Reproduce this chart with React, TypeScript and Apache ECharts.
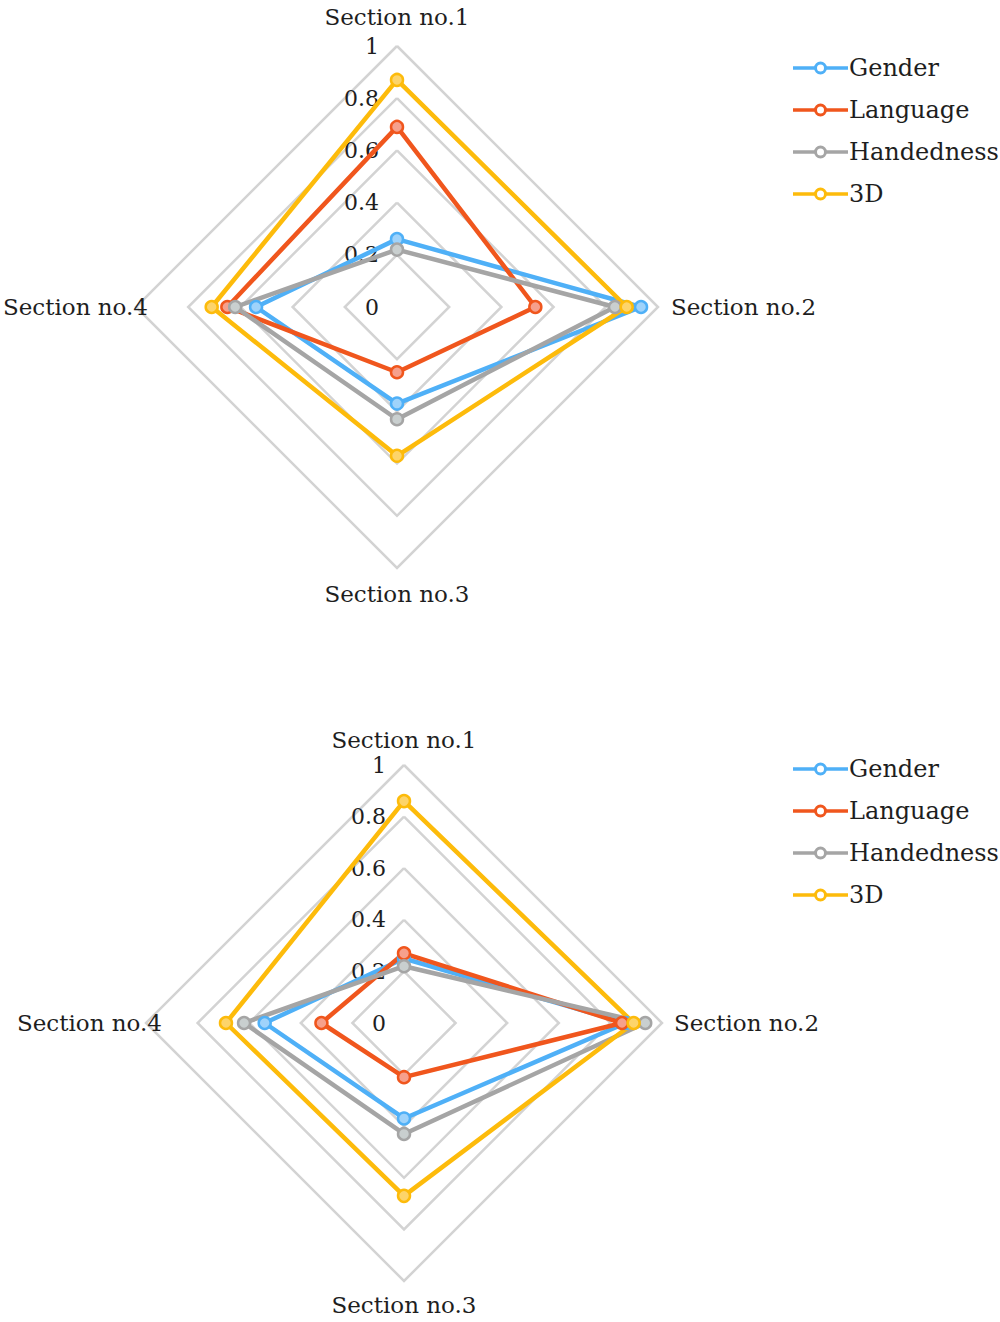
import React, { useEffect, useRef } from "react";
import * as echarts from "echarts";

const SECTIONS = ["Section no.1", "Section no.2", "Section no.3", "Section no.4"];
const SERIES_NAMES = ["Gender", "Language", "Handedness", "3D"];
const AXIS_MIN = 0;
const AXIS_MAX = 1;
const SPLIT_COUNT = 5;

// values in section order: no.1, no.2, no.3, no.4
const TOP_GENDER = [0.26, 0.935, 0.37, 0.54];
const TOP_LANGUAGE = [0.69, 0.53, 0.25, 0.65];
const TOP_HANDEDNESS = [0.22, 0.835, 0.43, 0.62];
const TOP_3D = [0.87, 0.88, 0.57, 0.71];

const BOTTOM_GENDER = [0.25, 0.86, 0.37, 0.54];
const BOTTOM_LANGUAGE = [0.27, 0.845, 0.21, 0.32];
const BOTTOM_HANDEDNESS = [0.22, 0.935, 0.43, 0.62];
const BOTTOM_3D = [0.86, 0.89, 0.67, 0.69];

const LINE_COLORS = ["#4fb0f7", "#f0561d", "#a5a5a5", "#fdbb0b"];
const FILL_COLORS = ["#9fd3fb", "#f6a08c", "#c9cfcf", "#fdd46a"];

// counter-clockwise from top: no.1, no.4, no.3, no.2
const DISPLAY_ORDER = [0, 3, 2, 1];

const FONT = "DejaVu Serif";
const TEXT_COLOR = "#1e1e1e";

const LEGEND_ICON =
  "path://M0 5.3H21.3V8.7H0Z M33.7 5.3H55V8.7H33.7Z " +
  "M21 7A6.5 6.5 0 1 1 34 7A6.5 6.5 0 1 1 21 7Z " +
  "M24 7A3.5 3.5 0 1 0 31 7A3.5 3.5 0 1 0 24 7Z";

// pads: [top, right(left-pad), bottom(top-pad)] pushing names outward per side
function makeRadar(center: number[], radius: number, gap: number, pads: number[]) {
  return {
    center,
    radius,
    startAngle: 90,
    shape: "polygon",
    splitNumber: SPLIT_COUNT,
    nameGap: gap,
    indicator: DISPLAY_ORDER.map((i, k) => ({
      name: SECTIONS[i],
      min: AXIS_MIN,
      max: AXIS_MAX,
      ...(k === 0 ? {} : { axisLabel: { show: false } }),
    })),
    axisName: {
      color: TEXT_COLOR,
      fontFamily: FONT,
      fontSize: 23,
      formatter: (name: string) => {
        const k = DISPLAY_ORDER.findIndex((i) => SECTIONS[i] === name);
        return `{s${k}|${name}}`;
      },
      rich: {
        s0: { fontFamily: FONT, fontSize: 23, color: TEXT_COLOR, padding: [0, 0, pads[0], 0] },
        s1: { fontFamily: FONT, fontSize: 23, color: TEXT_COLOR },
        s2: { fontFamily: FONT, fontSize: 23, color: TEXT_COLOR, padding: [pads[2], 0, 0, 0] },
        s3: { fontFamily: FONT, fontSize: 23, color: TEXT_COLOR, padding: [0, 0, 0, pads[1]] },
      },
    },
    axisLine: { show: false },
    axisTick: { show: false },
    axisLabel: {
      show: true,
      color: TEXT_COLOR,
      fontFamily: FONT,
      fontSize: 22,
      margin: 18,
      formatter: (v: number) => String(Math.round(v * 10) / 10),
    },
    splitLine: { lineStyle: { color: "#d3d3d3", width: 2.5 } },
    splitArea: { show: false },
  };
}

function makeSeries(radarIndex: number, sets: number[][]) {
  return {
    type: "radar",
    radarIndex,
    symbol: "circle",
    symbolSize: 12,
    data: sets.map((vals, s) => ({
      name: SERIES_NAMES[s],
      value: DISPLAY_ORDER.map((i) => vals[i]),
      lineStyle: { color: LINE_COLORS[s], width: 4.5 },
      itemStyle: { color: FILL_COLORS[s], borderColor: LINE_COLORS[s], borderWidth: 2.5 },
    })),
  };
}

function makeLegend(top: number) {
  return {
    orient: "vertical",
    left: 788,
    top,
    itemWidth: 55,
    itemHeight: 14,
    itemGap: 12,
    icon: LEGEND_ICON,
    itemStyle: { borderWidth: 0 },
    textStyle: { color: TEXT_COLOR, fontFamily: FONT, fontSize: 24, lineHeight: 30, padding: [0, 0, 0, -4] },
    data: SERIES_NAMES.map((n, s) => ({ name: n, itemStyle: { color: LINE_COLORS[s], borderWidth: 0 } })),
  };
}

export default function App() {
  const ref = useRef<HTMLDivElement>(null);
  useEffect(() => {
    if (!ref.current) return;
    const chart = echarts.init(ref.current, null, { renderer: "svg" });
    chart.setOption({
      animation: false,
      backgroundColor: "#ffffff",
      legend: [makeLegend(48), makeLegend(749)],
      radar: [
        makeRadar([397, 307], 261, -12, [30, 25, 26]),
        makeRadar([404, 1023], 258, -16, [30, 28, 28]),
      ],
      series: [
        makeSeries(0, [TOP_GENDER, TOP_LANGUAGE, TOP_HANDEDNESS, TOP_3D]),
        makeSeries(1, [BOTTOM_GENDER, BOTTOM_LANGUAGE, BOTTOM_HANDEDNESS, BOTTOM_3D]),
      ],
    });
    return () => chart.dispose();
  }, []);
  return (
    <div
      ref={ref}
      style={{ position: "absolute", left: 0, top: 0, width: 1000, height: 1322, background: "#fff" }}
    />
  );
}
